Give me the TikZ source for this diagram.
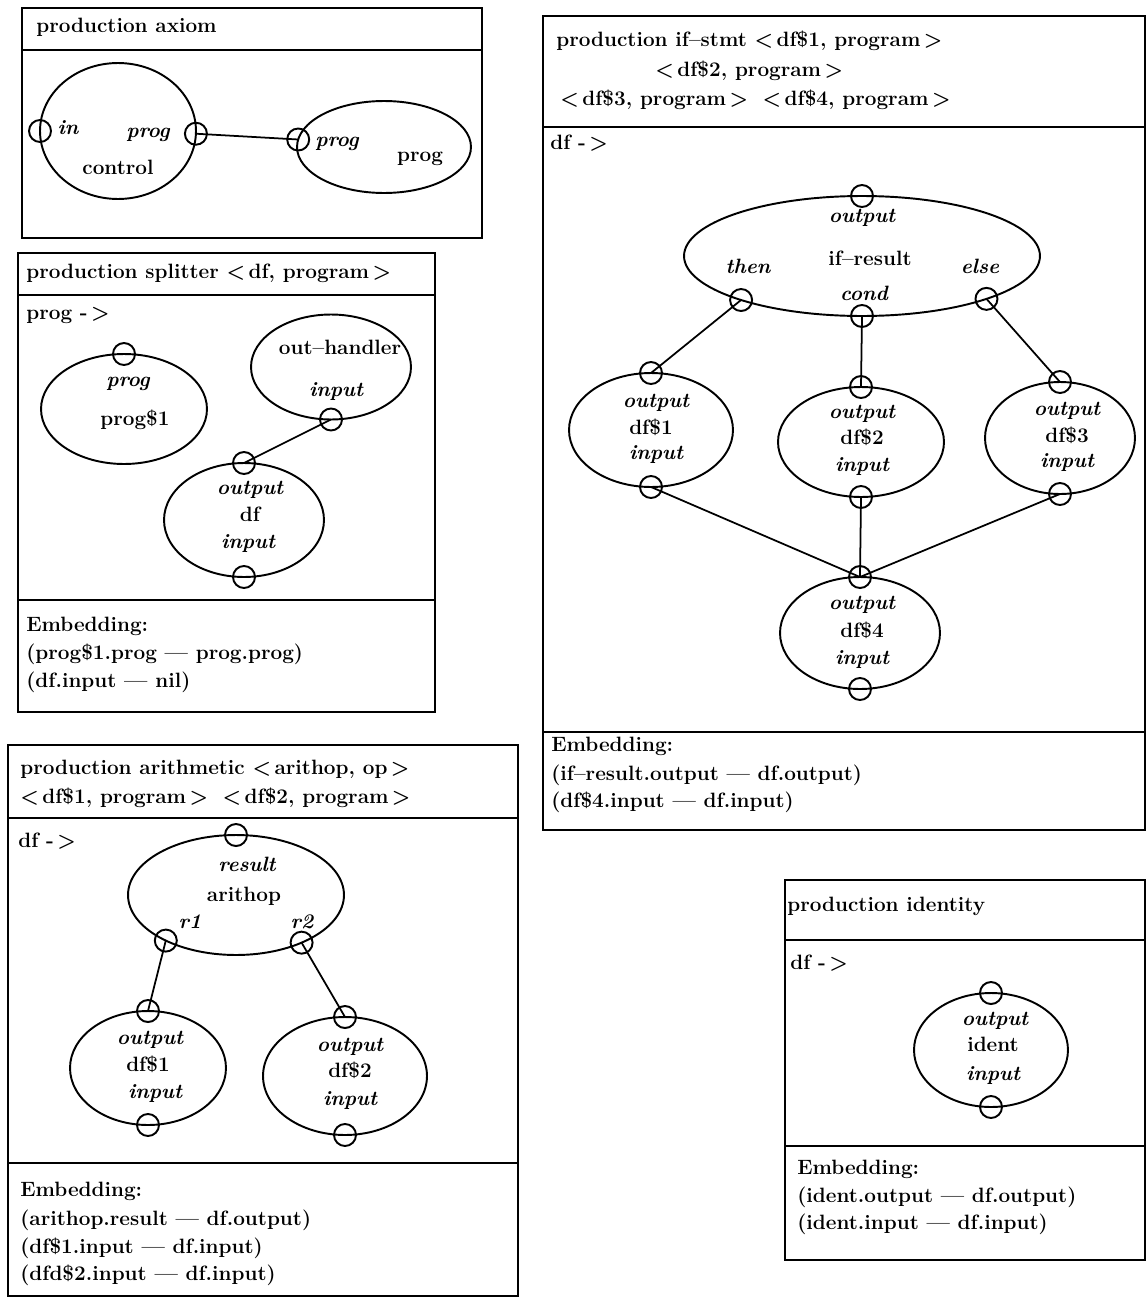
\documentclass[tikz,border=0pt]{standalone}
\usepackage{fontspec}
\usetikzlibrary{shapes.geometric}

\tikzset{
  txt/.style={anchor=west, inner sep=0pt, font=\fontsize{11.8}{14}\selectfont\bfseries, text height=1.6ex, text depth=0.3ex},
  lbl/.style={inner sep=0pt, font=\fontsize{11.8}{14}\selectfont\bfseries, text height=1.6ex, text depth=0.3ex},
  ital/.style={lbl, font=\fontsize{11.8}{14}\selectfont\bfseries\itshape},
  ovl/.style={ellipse, draw, line width=1.1pt, inner sep=0pt, outer sep=0pt},
  portc/.style={circle, draw, line width=1.1pt, minimum size=0.44cm, inner sep=0pt},
  wire/.style={line width=1pt},
  boxline/.style={line width=1.2pt},
}

\begin{document}
\begin{tikzpicture}[x=0.02cm, y=-0.02cm]
   \useasboundingbox (0,0) rectangle (1148,1298);

   % production axiom
   \draw[boxline] (22,8) rectangle (482,238);
   \draw[boxline] (22,50) -- (482,50);
   \node[txt] (axt) at (36,28) {production axiom};

   \node[ovl, minimum width=3.12cm, minimum height=2.72cm] (ctl) at (118,131) {};
   \node[ovl, minimum width=3.48cm, minimum height=1.84cm] (axp) at (384,147) {};
   \node[portc] (ctlin) at (ctl.west) {};
   \node[portc] (ctlprog) at (ctl.358) {};
   \node[portc] (axpprog) at (axp.175) {};
   \node[ital] (ctlinl) at (68,130) {in};
   \node[ital] (ctlprogl) at (148,133) {prog};
   \node[lbl] (ctlname) at (118,170) {control};
   \node[ital] (axpprogl) at (337,142) {prog};
   \node[lbl] (axpname) at (420,157) {prog};
   \draw[wire] (ctlprog.center) -- (axpprog.center);

   % production splitter
   \draw[boxline] (18,253) rectangle (435,712);
   \draw[boxline] (18,295) -- (435,295);
   \draw[boxline] (18,600) -- (435,600);
   \node[txt] (spt) at (26,274) {production splitter <\,df, program\,>};
   \node[txt] (sphead) at (26,315) {prog -\,>};

   \node[ovl, minimum width=3.32cm, minimum height=2.2cm] (pg1) at (124,409) {};
   \node[ovl, minimum width=3.2cm, minimum height=2.1cm] (outh) at (331,367) {};
   \node[ovl, minimum width=3.2cm, minimum height=2.28cm] (spdf) at (244,520) {};
   \node[portc] (pg1prog) at (pg1.north) {};
   \node[portc] (outhin) at (outh.south) {};
   \node[portc] (spdfout) at (spdf.north) {};
   \node[portc] (spdfin) at (spdf.south) {};
   \node[ital] (pg1progl) at (128,382) {prog};
   \node[lbl] (pg1name) at (135,421) {prog\$1};
   \node[lbl] (outhname) at (340,350) {out--handler};
   \node[ital] (outhinl) at (336,392) {input};
   \node[ital] (spdfoutl) at (250,490) {output};
   \node[lbl] (spdfname) at (250,517) {df};
   \node[ital] (spdfinl) at (248,544) {input};
   \draw[wire] (outhin.center) -- (spdfout.center);

   \node[txt] (spe1) at (26,627) {Embedding:};
   \node[txt] (spe2) at (26,655) {(prog\$1.prog --- prog.prog)};
   \node[txt] (spe3) at (26,683) {(df.input --- nil)};

   % production if-stmt
   \draw[boxline] (543,16) rectangle (1145,830);
   \draw[boxline] (543,127) -- (1145,127);
   \draw[boxline] (543,732) -- (1145,732);
   \node[txt] (ift1) at (556,42) {production if--stmt <\,df\$1, program\,>};
   \node[txt] (ift2) at (655,72) {<\,df\$2, program\,>};
   \node[txt] (ift3) at (560,101) {<\,df\$3, program\,>\hspace{0.7em}<\,df\$4, program\,>};
   \node[txt] (ifhead) at (550,145) {df -\,>};

   \node[ovl, minimum width=7.12cm, minimum height=2.4cm] (ifres) at (862,256) {};
   \node[ovl, minimum width=3.28cm, minimum height=2.28cm] (ifd1) at (651,430) {};
   \node[ovl, minimum width=3.32cm, minimum height=2.2cm] (ifd2) at (861,442) {};
   \node[ovl, minimum width=3.0cm, minimum height=2.24cm] (ifd3) at (1060,438) {};
   \node[ovl, minimum width=3.2cm, minimum height=2.24cm] (ifd4) at (860,633) {};

   \node[portc] (ifout) at (ifres.north) {};
   \node[portc] (ifthen) at (ifres.200) {};
   \node[portc] (ifcond) at (ifres.south) {};
   \node[portc] (ifelse) at (ifres.341) {};
   \node[portc] (ifd1out) at (ifd1.north) {};
   \node[portc] (ifd1in) at (ifd1.south) {};
   \node[portc] (ifd2out) at (ifd2.north) {};
   \node[portc] (ifd2in) at (ifd2.south) {};
   \node[portc] (ifd3out) at (ifd3.north) {};
   \node[portc] (ifd3in) at (ifd3.south) {};
   \node[portc] (ifd4out) at (ifd4.north) {};
   \node[portc] (ifd4in) at (ifd4.south) {};

   \node[ital] (ifoutl) at (862,218) {output};
   \node[lbl] (ifname) at (870,261) {if--result};
   \node[ital] (ifthenl) at (748,269) {then};
   \node[ital] (ifcondl) at (864,296) {cond};
   \node[ital] (ifelsel) at (980,269) {else};

   \node[ital] (ifd1outl) at (656,403) {output};
   \node[lbl] (ifd1name) at (651,430) {df\$1};
   \node[ital] (ifd1inl) at (656,455) {input};
   \node[ital] (ifd2outl) at (862,414) {output};
   \node[lbl] (ifd2name) at (862,440) {df\$2};
   \node[ital] (ifd2inl) at (862,467) {input};
   \node[ital] (ifd3outl) at (1067,411) {output};
   \node[lbl] (ifd3name) at (1067,438) {df\$3};
   \node[ital] (ifd3inl) at (1067,463) {input};
   \node[ital] (ifd4outl) at (862,605) {output};
   \node[lbl] (ifd4name) at (862,633) {df\$4};
   \node[ital] (ifd4inl) at (862,660) {input};

   \draw[wire] (ifthen.center) -- (ifd1out.center);
   \draw[wire] (ifcond.center) -- (ifd2out.center);
   \draw[wire] (ifelse.center) -- (ifd3out.center);
   \draw[wire] (ifd1in.center) -- (ifd4out.center);
   \draw[wire] (ifd2in.center) -- (ifd4out.center);
   \draw[wire] (ifd3in.center) -- (ifd4out.center);

   \node[txt] (ife1) at (551,747) {Embedding:};
   \node[txt] (ife2) at (551,776) {(if--result.output --- df.output)};
   \node[txt] (ife3) at (551,803) {(df\$4.input --- df.input)};

   % production arithmetic
   \draw[boxline] (8,745) rectangle (518,1296);
   \draw[boxline] (8,818) -- (518,818);
   \draw[boxline] (8,1163) -- (518,1163);
   \node[txt] (art1) at (20,770) {production arithmetic <\,arithop, op\,>};
   \node[txt] (art2) at (20,799) {<\,df\$1, program\,>\hspace{0.7em}<\,df\$2, program\,>};
   \node[txt] (arhead) at (18,843) {df -\,>};

   \node[ovl, minimum width=4.32cm, minimum height=2.4cm] (arop) at (236,895) {};
   \node[ovl, minimum width=3.12cm, minimum height=2.28cm] (ard1) at (148,1068) {};
   \node[ovl, minimum width=3.28cm, minimum height=2.36cm] (ard2) at (345,1076) {};

   \node[portc] (arres) at (arop.north) {};
   \node[portc] (arr1) at (arop.213) {};
   \node[portc] (arr2) at (arop.324) {};
   \node[portc] (ard1out) at (ard1.north) {};
   \node[portc] (ard1in) at (ard1.south) {};
   \node[portc] (ard2out) at (ard2.north) {};
   \node[portc] (ard2in) at (ard2.south) {};

   \node[ital] (arresl) at (247,867) {result};
   \node[lbl] (aropname) at (244,897) {arithop};
   \node[ital] (arr1l) at (190,924) {r1};
   \node[ital] (arr2l) at (302,924) {r2};
   \node[ital] (ard1outl) at (150,1040) {output};
   \node[lbl] (ard1name) at (148,1067) {df\$1};
   \node[ital] (ard1inl) at (155,1094) {input};
   \node[ital] (ard2outl) at (350,1047) {output};
   \node[lbl] (ard2name) at (350,1073) {df\$2};
   \node[ital] (ard2inl) at (350,1101) {input};

   \draw[wire] (arr1.center) -- (ard1out.center);
   \draw[wire] (arr2.center) -- (ard2out.center);

   \node[txt] (are1) at (20,1192) {Embedding:};
   \node[txt] (are2) at (20,1221) {(arithop.result --- df.output)};
   \node[txt] (are3) at (20,1249) {(df\$1.input --- df.input)};
   \node[txt] (are4) at (20,1276) {(dfd\$2.input --- df.input)};

   % production identity
   \draw[boxline] (785,880) rectangle (1145,1260);
   \draw[boxline] (785,940) -- (1145,940);
   \draw[boxline] (785,1146) -- (1145,1146);
   \node[txt] (idt) at (787,907) {production identity};
   \node[txt] (idhead) at (790,965) {df -\,>};

   \node[ovl, minimum width=3.08cm, minimum height=2.28cm] (ident) at (991,1050) {};
   \node[portc] (idout) at (ident.north) {};
   \node[portc] (idin) at (ident.south) {};
   \node[ital] (idoutl) at (995,1021) {output};
   \node[lbl] (idname) at (993,1047) {ident};
   \node[ital] (idinl) at (993,1076) {input};

   \node[txt] (ide1) at (797,1170) {Embedding:};
   \node[txt] (ide2) at (797,1198) {(ident.output --- df.output)};
   \node[txt] (ide3) at (797,1225) {(ident.input --- df.input)};

\end{tikzpicture}
\end{document}
